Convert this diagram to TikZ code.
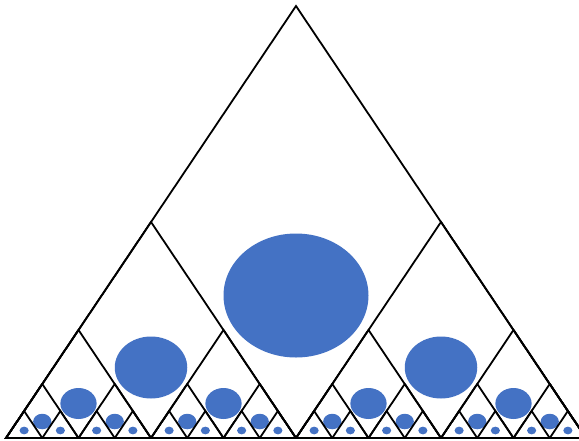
\documentclass[tikz,border=0pt]{standalone}
\definecolor{blobc}{HTML}{4472C4}
\begin{document}
\begin{tikzpicture}[x=1pt,y=-1pt,
  tri/.style={draw=black,line width=1.8pt,line join=miter},
  blob/.style={fill=blobc,draw=none}]
\useasboundingbox (0,0) rectangle (579,440);
\def\L{6}\def\B{438}\def\S{580}\def\H{432}
% ellipses
\foreach \k in {1,...,5} {
  \pgfmathsetmacro\n{2^(\k-1)}
  \pgfmathsetmacro\s{\S/\n}
  \pgfmathsetmacro\h{\H/\n}
  \pgfmathsetmacro\rx{72.5/\n}
  \pgfmathsetmacro\ry{62/\n}
  \pgfmathtruncatemacro\m{\n-1}
  \foreach \i in {0,...,\m} {
    \fill[blob] ({\L+(\i+0.5)*\s},{\B-\h/3+1.5}) ellipse [x radius=\rx, y radius=\ry];
  }
}
% triangles
\foreach \k in {0,...,4} {
  \pgfmathsetmacro\n{2^\k}
  \pgfmathsetmacro\s{\S/\n}
  \pgfmathsetmacro\h{\H/\n}
  \pgfmathtruncatemacro\m{\n-1}
  \foreach \i in {0,...,\m} {
    \draw[tri] ({\L+\i*\s},\B) -- ++(\s,0) -- ++({-\s/2},{-\h}) -- cycle;
  }
}
\end{tikzpicture}
\end{document}
